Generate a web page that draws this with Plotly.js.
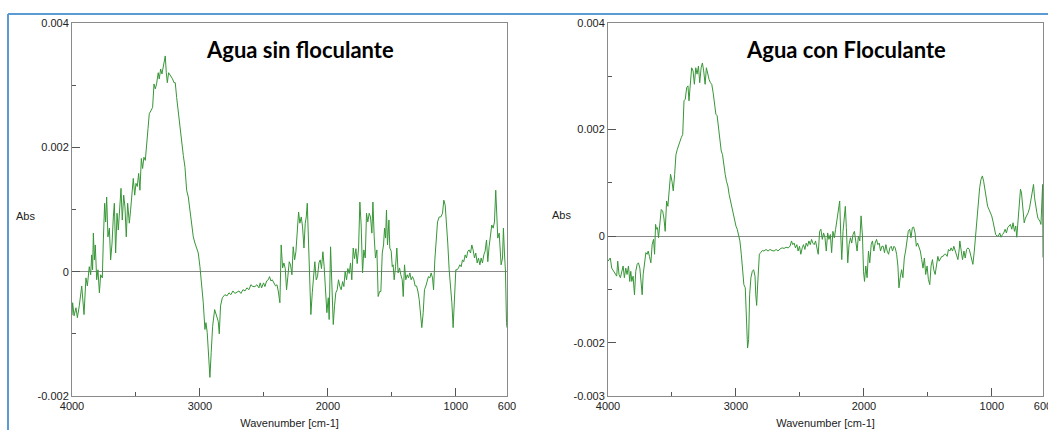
<!DOCTYPE html>
<html><head><meta charset="utf-8">
<script src="https://cdn.plot.ly/plotly-3.0.1.min.js"></script>
<style>html,body{margin:0;padding:0;background:#fff;} #chart{width:1048px;height:430px;}</style>
</head><body><div id="chart"></div>
<script>
// Panel titles
const panelTitles = ["Agua sin floculante", "Agua con Floculante"];

// Left spectrum: Agua sin floculante
const wnLeft = [4000,3995,3984,3969,3958,3943,3924,3906,3891,3880,3865,3854,3846,3839,3833,3825,3818,3807,3797,3786,3776,3763,3755,3745,3737,3729,3719,3708,3698,3687,3677,3669,3659,3648,3638,3628,3617,3607,3596,3586,3576,3565,3552,3542,3531,3521,3510,3500,3490,3479,3469,3458,3448,3438,3427,3417,3406,3396,3380,3370,3359,3349,3339,3326,3318,3307,3297,3286,3279,3271,3263,3255,3245,3229,3214,3203,3193,3182,3169,3156,3143,3130,3117,3104,3091,3078,3065,3052,3039,3026,3013,3000,2987,2974,2961,2953,2943,2932,2922,2912,2901,2885,2870,2857,2849,2839,2825,2805,2789,2773,2758,2742,2727,2711,2695,2680,2664,2648,2633,2617,2602,2586,2570,2555,2539,2529,2518,2503,2492,2479,2466,2456,2445,2435,2419,2409,2398,2388,2375,2365,2354,2344,2333,2323,2313,2302,2292,2281,2271,2260,2250,2240,2229,2219,2208,2198,2187,2177,2169,2161,2151,2143,2133,2122,2112,2102,2091,2081,2070,2060,2050,2039,2029,2018,2008,1997,1990,1979,1969,1958,1948,1938,1927,1917,1906,1896,1885,1875,1865,1854,1844,1833,1823,1813,1802,1792,1781,1771,1760,1750,1740,1729,1719,1708,1698,1688,1677,1667,1656,1648,1638,1628,1617,1607,1596,1586,1575,1565,1557,1549,1542,1534,1523,1516,1505,1497,1490,1482,1471,1461,1451,1440,1430,1419,1411,1401,1391,1380,1370,1359,1349,1339,1328,1318,1307,1297,1286,1276,1266,1255,1245,1234,1224,1214,1203,1193,1182,1174,1164,1154,1143,1130,1117,1104,1094,1083,1073,1063,1052,1042,1031,1021,1010,1000,990,979,969,958,948,938,927,917,906,896,885,875,865,854,844,833,823,812,802,792,781,771,760,750,740,729,719,708,698,688,680,672,661,654,646,635,628,620,612,604,600];
const absLeft = [-0.0007,-0.0005,-0.00071,-0.00058,-0.00074,-0.00055,-0.00023,-0.00069,-0.0001,-0.00023,0.00008,-0.00005,0.00027,0.00003,0.00062,0.00019,0.00043,-0.00013,0.00003,-0.00034,-0.00005,-0.0001,0.00051,0.0011,0.0008,0.0012,0.00056,0.0007,0.00019,0.00046,0.00088,0.0011,0.0003,0.00094,0.00067,0.0011,0.00134,0.00083,0.00123,0.00104,0.00056,0.0011,0.00078,0.00099,0.0012,0.0015,0.00123,0.00142,0.00137,0.00158,0.00131,0.00182,0.00166,0.00184,0.00179,0.00211,0.0023,0.00254,0.00259,0.00264,0.00302,0.00294,0.00302,0.0032,0.0031,0.00326,0.00318,0.00331,0.00336,0.00347,0.0032,0.00304,0.0032,0.00315,0.0031,0.00304,0.00304,0.0028,0.00254,0.00232,0.00211,0.00187,0.00168,0.00131,0.0012,0.00099,0.0008,0.00056,0.00046,0.00038,0.0003,0.00008,-0.00018,-0.0005,-0.00093,-0.00082,-0.00098,-0.0013,-0.0017,-0.0013,-0.00088,-0.00061,-0.00071,-0.0008,-0.001,-0.00055,-0.00042,-0.00037,-0.00039,-0.00034,-0.00037,-0.00031,-0.00035,-0.00033,-0.00031,-0.00035,-0.00029,-0.00031,-0.00026,-0.00029,-0.00021,-0.00024,-0.00024,-0.00021,-0.00026,-0.00018,-0.00026,-0.00018,-0.00024,-0.00015,-0.00013,-0.00008,-0.00015,-0.00013,-0.00018,-0.00023,-0.00021,-0.00031,-0.0005,0.00043,0.00006,0.00014,0.00005,-0.00029,-0.00008,0.00016,0.00011,-0.00005,0.0004,0.00019,0.00032,0.00067,0.00096,0.00078,0.00088,0.00072,0.00038,0.00078,0.00088,0.0011,0.0004,-0.00029,-0.00069,-0.00034,0,0.00016,-0.00013,-0.00008,0.00014,0.00019,0.00005,0.00032,0.00008,-0.00023,-0.00066,-0.00042,-0.00077,0.0004,-0.00029,-0.00085,-0.00055,-0.00034,-0.00029,-0.00013,-0.00024,-0.00029,-0.00016,-0.00024,0,-0.00013,0.00005,-0.00003,0.00014,-0.00013,0.00038,0.00021,0.00037,0.00013,0.00038,0.00112,0.00075,-0.00002,0.00035,0.00022,0.00094,0.0008,0.00094,0.00088,0.00062,0.00112,0.00056,0.00022,0.00035,-0.0004,-0.00032,-0.00032,0.0003,0.00043,0.0007,0.00054,0.00099,0.00043,0.00083,0.00038,0.00033,0.00008,0.00011,-0.00013,0.00008,0.00038,-0.00002,0.00006,-0.00005,-0.00013,-0.0004,0.00011,-0.00013,-0.00005,-0.0001,-0.00002,-0.00013,-0.00008,-0.00013,-0.00023,-0.00023,-0.00031,-0.00045,-0.00066,-0.0009,-0.00066,-0.00029,-0.00023,-0.00013,-0.00008,-0.0001,-0.00002,-0.0001,-0.00029,0.00019,0.00056,0.0008,0.00088,0.00088,0.00094,0.00115,0.00107,0.00083,0.00046,0.00003,-0.00018,-0.0005,-0.0009,-0.00029,0.00003,0.00003,0.00006,0.00011,0.00008,0.00019,0.00016,0.00027,0.00022,0.00033,0.00035,0.0003,0.00043,0.00035,0.00022,0.0003,0.00014,0.00022,0.00011,0.00022,0.00014,0.00027,0.00033,0.00051,0.00016,0.0004,0.00056,0.00075,0.0007,0.0008,0.00131,0.00083,0.00054,0.00062,0.00035,0.00011,0.00022,0.0007,0.0003,0.00001,-0.00082,-0.0009];

// Right spectrum: Agua con Floculante
const wnRight = [4000,3982,3971,3958,3945,3932,3924,3914,3903,3893,3882,3872,3861,3851,3840,3830,3822,3814,3804,3793,3783,3772,3762,3751,3741,3733,3725,3715,3704,3694,3686,3676,3665,3655,3644,3636,3628,3621,3613,3605,3594,3584,3573,3563,3553,3542,3532,3521,3511,3500,3490,3479,3469,3458,3448,3437,3427,3416,3406,3396,3385,3375,3367,3356,3346,3335,3325,3314,3304,3293,3283,3272,3262,3252,3241,3231,3220,3210,3199,3189,3178,3168,3157,3147,3136,3126,3115,3105,3095,3084,3074,3063,3053,3042,3032,3021,3011,3000,2990,2980,2969,2958,2948,2938,2927,2919,2909,2901,2893,2883,2872,2862,2851,2845,2838,2830,2817,2807,2794,2781,2765,2749,2734,2718,2702,2686,2671,2655,2639,2624,2608,2592,2577,2566,2556,2545,2535,2524,2514,2503,2493,2482,2472,2461,2451,2440,2430,2419,2409,2399,2388,2378,2367,2357,2346,2336,2325,2315,2304,2294,2283,2273,2262,2252,2242,2231,2221,2210,2200,2189,2181,2173,2163,2153,2145,2137,2126,2116,2105,2095,2085,2074,2064,2053,2043,2032,2022,2011,2003,1995,1985,1975,1964,1954,1943,1933,1922,1912,1901,1891,1880,1870,1859,1849,1839,1828,1818,1807,1797,1786,1776,1765,1755,1744,1734,1726,1716,1705,1695,1684,1674,1663,1653,1642,1632,1621,1611,1600,1590,1580,1569,1559,1548,1538,1527,1517,1506,1496,1485,1475,1464,1454,1443,1433,1422,1412,1402,1391,1381,1370,1360,1349,1339,1328,1318,1307,1297,1286,1276,1265,1255,1250,1239,1229,1218,1208,1197,1187,1176,1166,1156,1148,1137,1127,1116,1106,1095,1085,1074,1064,1054,1043,1033,1022,1012,1001,991,980,970,959,949,938,928,917,907,896,886,876,865,855,844,834,823,813,805,794,784,776,768,758,747,737,726,716,705,695,685,674,666,658,648,640,632,624,616,609,603,600];
const absRight = [-0.00047,-0.00041,-0.0006,-0.00066,-0.00072,-0.00075,-0.00047,-0.00072,-0.00078,-0.00066,-0.00056,-0.00078,-0.0006,-0.00072,-0.00056,-0.00085,-0.00066,-0.00085,-0.00075,-0.0011,-0.00066,-0.00053,-0.0005,-0.0006,-0.00097,-0.0011,-0.00072,-0.00047,-0.00031,-0.00034,-0.00028,-0.00038,-0.0005,-0.00016,-0.00006,-0.00034,0.00022,0.00013,0.00016,-0.00003,0.00025,0.0005,0.00047,0.00034,0.00009,0.00066,0.00056,0.00094,0.00116,0.00103,0.00085,0.00116,0.00153,0.00163,0.00172,0.00178,0.00185,0.00191,0.00254,0.00257,0.00279,0.00282,0.00254,0.00291,0.00316,0.0031,0.00285,0.00316,0.00304,0.00319,0.00288,0.00316,0.00325,0.0031,0.00285,0.00316,0.00304,0.00294,0.00288,0.00285,0.00269,0.00254,0.00229,0.00226,0.00203,0.00185,0.0016,0.00153,0.00131,0.00116,0.00103,0.00094,0.00078,0.00066,0.00056,0.00044,0.00028,0.00019,0.00013,0,-0.00009,-0.00034,-0.00066,-0.00091,-0.00097,-0.00153,-0.0021,-0.00194,-0.0011,-0.00078,-0.00066,-0.00063,-0.00075,-0.0011,-0.0013,-0.0009,-0.00034,-0.00031,-0.00027,-0.00028,-0.00025,-0.00028,-0.00025,-0.00027,-0.00028,-0.00025,-0.00028,-0.00024,-0.00022,-0.00023,-0.00021,-0.00022,-0.00019,-0.00009,-0.00016,-0.00013,-0.00022,-0.00016,-0.00028,-0.00019,-0.00034,-0.00022,-0.00016,-0.00025,-0.00013,-0.00019,-0.00009,-0.00016,-0.00006,-0.00013,-0.00016,-0.00009,-0.00025,-0.00034,0.00009,0.00013,-0.00006,0.00006,-0.00003,-0.00028,0.00006,-0.00006,0.00003,-0.00031,0.00009,-0.00003,0.00013,0.00031,0.00044,0.00066,0.00003,-0.00044,0.00009,0.00034,0.00056,0.00016,-0.0005,-0.00016,-0.00003,-0.00013,0.00003,0.00009,-0.00006,-0.00028,0,-0.00009,0.00038,0,-0.00066,-0.00085,-0.00056,-0.00078,-0.00028,-0.0005,-0.00016,-0.00009,-0.00028,-0.00013,-0.00006,-0.00016,-0.00013,-0.00028,-0.00019,-0.00019,-0.00031,-0.00016,-0.00028,-0.00034,-0.00022,-0.00019,-0.00028,-0.00019,-0.00022,-0.00034,-0.00056,-0.00097,-0.00078,-0.00063,-0.00078,-0.00041,-0.00028,-0.00009,0.00009,0.00013,-0.00003,0.00016,0.00017,0.00006,-0.00019,-0.00013,-0.00022,-0.00028,-0.00044,-0.0006,-0.00041,-0.00072,-0.00056,-0.00081,-0.00091,-0.00056,-0.00044,-0.00063,-0.00072,-0.00053,-0.00038,-0.00047,-0.00041,-0.00038,-0.00038,-0.00034,-0.00034,-0.00038,-0.00025,-0.00028,-0.00022,-0.00028,-0.00019,-0.00028,-0.00034,-0.00044,-0.00025,-0.00009,-0.00028,-0.00044,-0.00028,-0.00041,-0.00025,-0.00022,-0.00025,-0.00034,-0.00047,-0.00053,-0.00028,0.00003,0.00034,0.00063,0.00091,0.00106,0.00113,0.00103,0.00085,0.00069,0.00056,0.0005,0.00044,0.00038,0.00028,0.00016,0.00003,0,0,0.00006,-0.00002,0.00003,0.00006,0.00013,0.00006,0.00016,0.00019,0.00022,0.00013,0.00025,0.00009,0.00019,-0.00002,0.00034,0.00066,0.00088,0.00081,0.00047,0.00025,0.00034,0.00038,0.00044,0.00053,0.00066,0.00078,0.00097,0.00072,0.00056,0.00044,0.00034,0.00031,0.00028,0.00022,0.0005,0.00097,-0.0004];

// Tick values / labels
const xTickVals = [4000, 3000, 2000, 1000, 600];
const xTickText = ["4000", "3000", "2000", "1000", "600"];
const xMinorVals = [3500, 2500, 1500];
const yLeftTickVals = [-0.002, 0, 0.002, 0.004];
const yLeftTickText = ["-0.002", "0", "0.002", "0.004"];
const yRightTickVals = [-0.003, -0.002, 0, 0.002, 0.004];
const yRightTickText = ["-0.003", "-0.002", "0", "0.002", "0.004"];
const yMinorVals = [-0.001, 0.001, 0.003];
const xTitle = "Wavenumber [cm-1]";
const yTitle = "Abs";

const W = 1048, H = 430;
const tickFont = {family: "Liberation Sans, Arial, sans-serif", size: 11, color: "#222"};
const lineCol = "#379637";

function xAxis(dom, anchor) {
  return {
    domain: dom, anchor: anchor, range: [4000, 600], autorange: false,
    tickmode: "array", tickvals: xTickVals, ticktext: xTickText,
    ticks: "inside", ticklen: 8, tickwidth: 1, tickcolor: "#555",
    minor: {tickmode: "array", tickvals: xMinorVals, ticks: "inside", ticklen: 4, tickcolor: "#555", showgrid: false},
    showline: true, mirror: true, linecolor: "#8a8a8a", linewidth: 1,
    showgrid: false, zeroline: false, tickfont: tickFont, ticklabeloverflow: "allow",
    title: {text: xTitle, font: tickFont, standoff: 8}
  };
}
function yAxis(anchor, range, tv, tt) {
  return {
    domain: [34 / H, 407 / H], anchor: anchor, range: range, autorange: false,
    tickmode: "array", tickvals: tv, ticktext: tt,
    ticks: "inside", ticklen: 8, tickwidth: 1, tickcolor: "#555",
    minor: {tickmode: "array", tickvals: yMinorVals, ticks: "inside", ticklen: 4, tickcolor: "#555", showgrid: false},
    showline: true, mirror: true, linecolor: "#8a8a8a", linewidth: 1,
    showgrid: false, zeroline: true, zerolinecolor: "#8a8a8a", zerolinewidth: 1,
    tickfont: tickFont
  };
}

const traces = [
  {x: wnLeft, y: absLeft, xaxis: "x", yaxis: "y", type: "scatter", mode: "lines",
   line: {color: lineCol, width: 1}, showlegend: false, name: panelTitles[0]},
  {x: wnRight, y: absRight, xaxis: "x2", yaxis: "y2", type: "scatter", mode: "lines",
   line: {color: lineCol, width: 1}, showlegend: false, name: panelTitles[1]}
];

const titleFont = {family: "Lato, Calibri, sans-serif", size: 22, color: "#000", weight: 700};
const blue = "#5b9bd5";

const layout = {
  width: W, height: H, margin: {l: 0, r: 0, t: 0, b: 0},
  paper_bgcolor: "#fff", plot_bgcolor: "#fff", showlegend: false,
  xaxis: xAxis([72 / W, 507 / W], "y"),
  yaxis: yAxis("x", [-0.002, 0.004], yLeftTickVals, yLeftTickText),
  xaxis2: xAxis([608 / W, 1043 / W], "y2"),
  yaxis2: yAxis("x2", [-0.003, 0.004], yRightTickVals, yRightTickText),
  annotations: [
    {xref: "paper", yref: "paper", x: 300 / W, y: 1 - 50 / H, text: panelTitles[0], showarrow: false, font: titleFont, xanchor: "center", yanchor: "middle"},
    {xref: "paper", yref: "paper", x: 846 / W, y: 1 - 50 / H, text: panelTitles[1], showarrow: false, font: titleFont, xanchor: "center", yanchor: "middle"},
    {xref: "paper", yref: "paper", x: 25 / W, y: 1 - 216 / H, text: yTitle, showarrow: false, font: tickFont, xanchor: "center", yanchor: "middle"},
    {xref: "paper", yref: "paper", x: 561 / W, y: 1 - 215 / H, text: yTitle, showarrow: false, font: tickFont, xanchor: "center", yanchor: "middle"}
  ],
  shapes: [
    {type: "line", xref: "paper", yref: "paper", x0: 8 / W, x1: 1, y0: 1 - 14 / H, y1: 1 - 14 / H, line: {color: blue, width: 2}},
    {type: "line", xref: "paper", yref: "paper", x0: 8 / W, x1: 8 / W, y0: 0, y1: 1 - 14 / H, line: {color: blue, width: 2}}
  ]
};

Plotly.newPlot("chart", traces, layout, {staticPlot: true, displayModeBar: false});
</script>
</body></html>
